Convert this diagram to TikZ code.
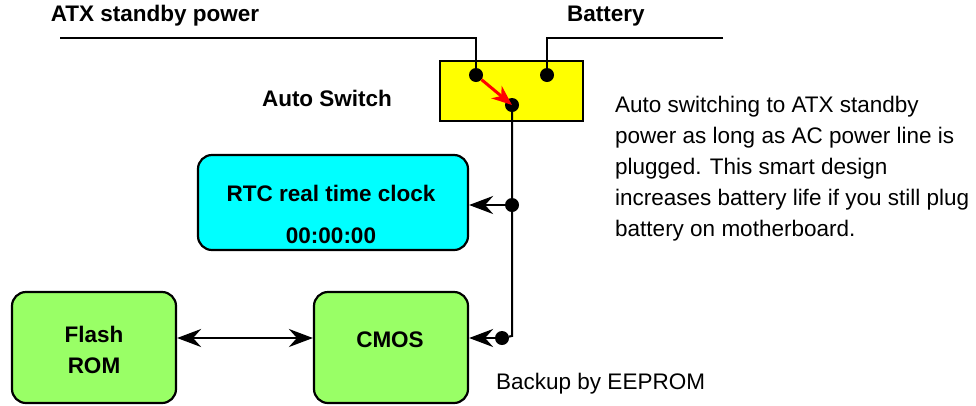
\documentclass[tikz,border=0pt]{standalone}
\usepackage{fontspec}
\setmainfont{Liberation Sans}
\usetikzlibrary{arrows.meta}
\definecolor{romgreen}{RGB}{153,255,102}
\definecolor{rtccyan}{RGB}{0,255,255}
\definecolor{swyellow}{RGB}{255,255,0}

\begin{document}
\begin{tikzpicture}[x=1pt,y=-1pt,>={Stealth[length=24pt,width=18pt,inset=8pt]},
  box/.style={draw,line width=2.2pt,rounded corners=14pt},
  bold/.style={font=\fontsize{22.5}{24}\selectfont\bfseries},
  dot/.style={circle,fill,inner sep=0pt,minimum size=14pt}]
\useasboundingbox (0,0) rectangle (976,405);
% switch box and the two supplies
\draw[fill=swyellow,line width=1.5pt] (440,61) rectangle (583,121);
\node[dot] (atx) at (476,75) {};
\node[dot] (bat) at (547,75) {};
\node[dot] (out) at (512,105) {};
\draw[line width=2pt] (60,38) -| (atx);
\draw[line width=2pt] (723,38) -| (bat);
\draw[red,line width=3pt,-{Stealth[length=20pt,width=16pt,inset=6pt]}] (atx) -- (out.center);
\node[bold] (atxlbl) at (155,16) {ATX standby power};
\node[bold] (batlbl) at (606,16) {Battery};
\node[bold] (swlbl) at (327,98) {Auto Switch};
% the boxes
\node[box,fill=rtccyan,minimum width=270pt,minimum height=95pt] (rtc) at (333,202.5) {};
\node[box,fill=romgreen,minimum width=164pt,minimum height=111pt] (rom) at (94,347.5) {};
\node[box,fill=romgreen,minimum width=154pt,minimum height=111pt] (cmos) at (391,347.5) {};
\node[bold] (rtcname) at (331,193) {RTC real time clock};
\node[bold] (rtctime) at (331,236) {00:00:00};
\node[bold] (romname) at (94,334) {Flash};
\node[bold] (romname2) at (94,366) {ROM};
\node[bold] (cmosname) at (390,340) {CMOS};
% power rail
\node[dot] (r1) at (512,205) {};
\node[dot] (r2) at (502,338) {};
\draw[line width=2pt] (out) -- (512,336) -- (r2);
\draw[->,line width=2.5pt] (r1) -- (rtc.east |- r1);
\draw[->,line width=2.5pt] (r2) -- (cmos.east |- r2);
\draw[<->,line width=2.5pt] (rom.east |- r2) -- (cmos.west |- r2);
% notes
\node[anchor=base west,align=left,font=\fontsize{22.5}{31}\selectfont,inner sep=0pt] (note) at (615,236)
  {Auto switching to ATX standby\\power as long as AC power line is\\plugged. This smart design\\increases battery life if you still plug\\battery on motherboard.};
\node[anchor=west,inner sep=0pt,font=\fontsize{22.5}{24}\selectfont] (eep) at (496,384) {Backup by EEPROM};
\end{tikzpicture}
\end{document}
